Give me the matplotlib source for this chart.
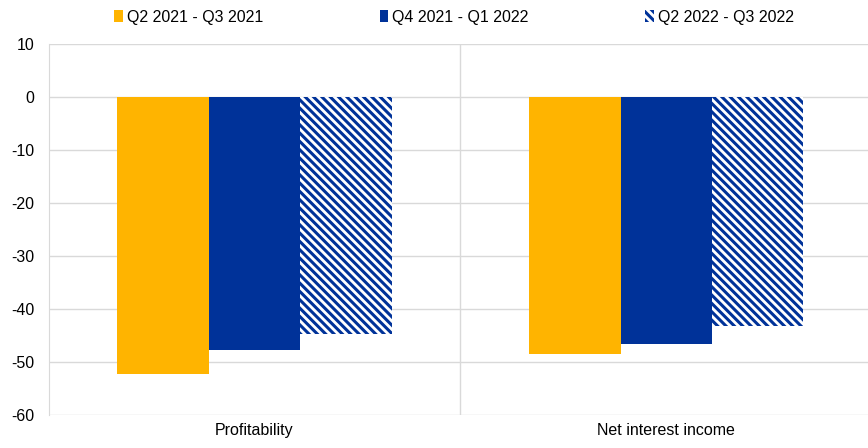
import matplotlib
matplotlib.use("Agg")
import matplotlib.pyplot as plt
import numpy as np

plt.rcParams['font.family'] = ['Liberation Sans', 'DejaVu Sans']
plt.rcParams['hatch.linewidth'] = 2.2
plt.rcParams['axes.unicode_minus'] = False

categories = ["Profitability", "Net interest income"]
series_names = ["Q2 2021 - Q3 2021", "Q4 2021 - Q1 2022", "Q2 2022 - Q3 2022"]
q2_2021_q3_2021 = [-52.2, -48.6]
q4_2021_q1_2022 = [-47.7, -46.7]
q2_2022_q3_2022 = [-44.8, -43.3]
y_ticks = [10, 0, -10, -20, -30, -40, -50, -60]

yellow = "#FFB400"
blue = "#003299"
grid_col = "#D9D9D9"

fig = plt.figure(figsize=(8.68, 4.48), dpi=100)
ax = fig.add_axes([0.056, 0.074, 0.944, 0.828])

x = np.arange(len(categories))
w = 0.222
ax.bar(x - w, q2_2021_q3_2021, w, color=yellow, label=series_names[0], zorder=3)
ax.bar(x, q4_2021_q1_2022, w, color=blue, label=series_names[1], zorder=3)
ax.bar(x + w, q2_2022_q3_2022, w, facecolor="white", edgecolor=blue, hatch="\\\\\\\\",
       linewidth=0, label=series_names[2], zorder=3)

ax.set_ylim(-60, 10)
ax.set_yticks(y_ticks)
ax.set_xlim(-0.5, 1.49)
ax.set_xticks(x)
ax.set_xticklabels(categories)
ax.tick_params(axis='both', length=0, labelsize=11.5, colors="#000000")
ax.tick_params(axis='y', pad=10)
ax.tick_params(axis='x', pad=6)

ax.yaxis.grid(True, color=grid_col, linewidth=1, zorder=0)
ax.axvline(0.5, color=grid_col, linewidth=1, zorder=0)
for side in ["top", "right", "bottom"]:
    ax.spines[side].set_visible(False)
ax.spines["left"].set_color(grid_col)

fig.legend(loc="upper center", bbox_to_anchor=(0.523, 1.01), ncol=3, frameon=False,
           fontsize=11.5, handlelength=0.55, handleheight=0.8, handletextpad=0.25,
           columnspacing=7.3)

fig.savefig("out.png", dpi=100)
